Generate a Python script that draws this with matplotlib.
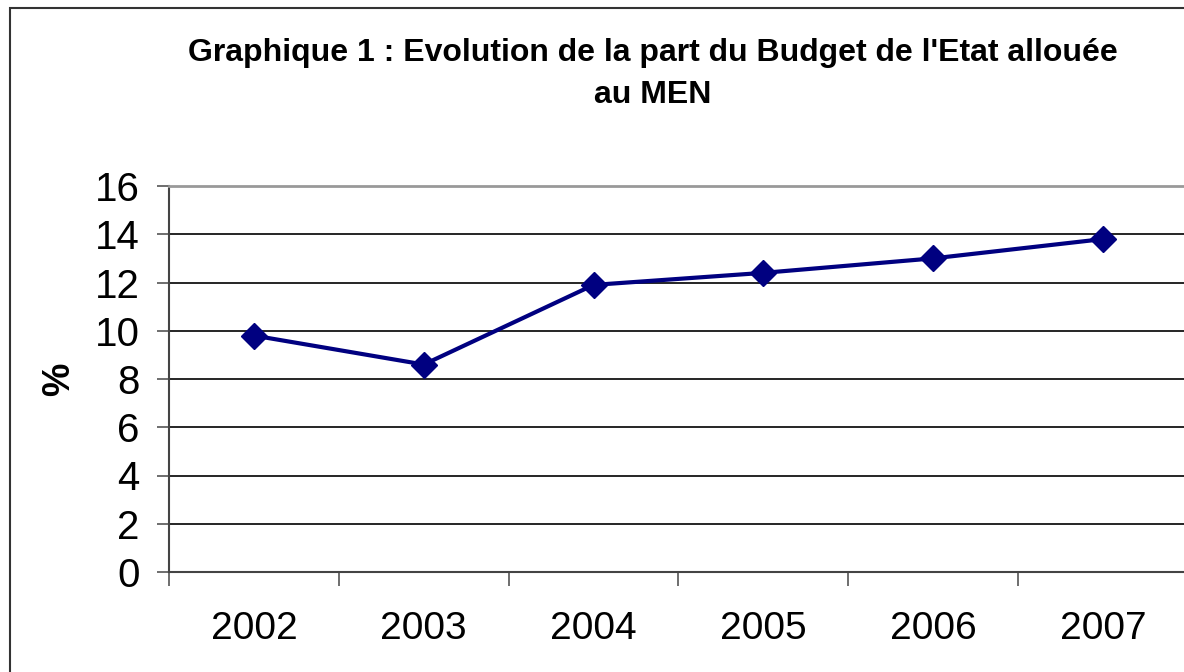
import numpy as np
import matplotlib.pyplot as plt
from matplotlib.patches import Rectangle

plt.rcParams['font.family'] = ['Liberation Sans', 'DejaVu Sans']

years = ["2002", "2003", "2004", "2005", "2006", "2007"]
part_men = [9.8, 8.6, 11.9, 12.4, 13.0, 13.8]
y_ticks = [0, 2, 4, 6, 8, 10, 12, 14, 16]

fig = plt.figure(figsize=(11.84, 6.72), dpi=100)

# outer chart frame (cut off at right/bottom like the reference)
fig.patches.append(Rectangle((10 / 1184, -0.05), 1.1, 1 - 8 / 672 + 0.05,
                             transform=fig.transFigure, fill=False,
                             edgecolor="#333333", linewidth=1.5))

ax = fig.add_axes([169 / 1184, 1 - 572 / 672, (1188 - 169) / 1184, (572 - 186) / 672])
x = np.arange(len(years))
ax.plot(x, part_men, color="#000080", linewidth=3, marker="D", markersize=13,
        clip_on=False)

ax.set_xlim(-0.5, len(years) - 0.5)
ax.set_ylim(0, 16)
ax.set_yticks(y_ticks)
ax.yaxis.grid(True, color="black", linewidth=1.2)
ax.set_axisbelow(True)

ax.set_xticks(x)
ax.set_xticklabels(years)
ax.set_xticks(np.arange(-0.5, len(years)), minor=True)
ax.tick_params(axis="x", which="major", length=0, labelsize=28, pad=28)
ax.tick_params(axis="x", which="minor", length=10, width=1.2, color="#555555")
ax.tick_params(axis="y", length=9, width=1.2, color="#555555", labelsize=29, pad=12)

ax.spines["right"].set_visible(False)
ax.spines["top"].set_color("#999999")
ax.spines["top"].set_linewidth(2)
ax.spines["left"].set_color("#444444")
ax.spines["left"].set_linewidth(1.5)
ax.spines["bottom"].set_color("#444444")
ax.spines["bottom"].set_linewidth(1.5)

ax.set_ylabel("%", fontsize=27, fontweight="bold", labelpad=13)

fig.text(653 / 1184, 1 - 74 / 672,
         "Graphique 1 : Evolution de la part du Budget de l'Etat allouée\nau MEN",
         ha="center", va="center", fontsize=23, fontweight="bold", linespacing=1.5)

fig.savefig("out.png", dpi=100)
